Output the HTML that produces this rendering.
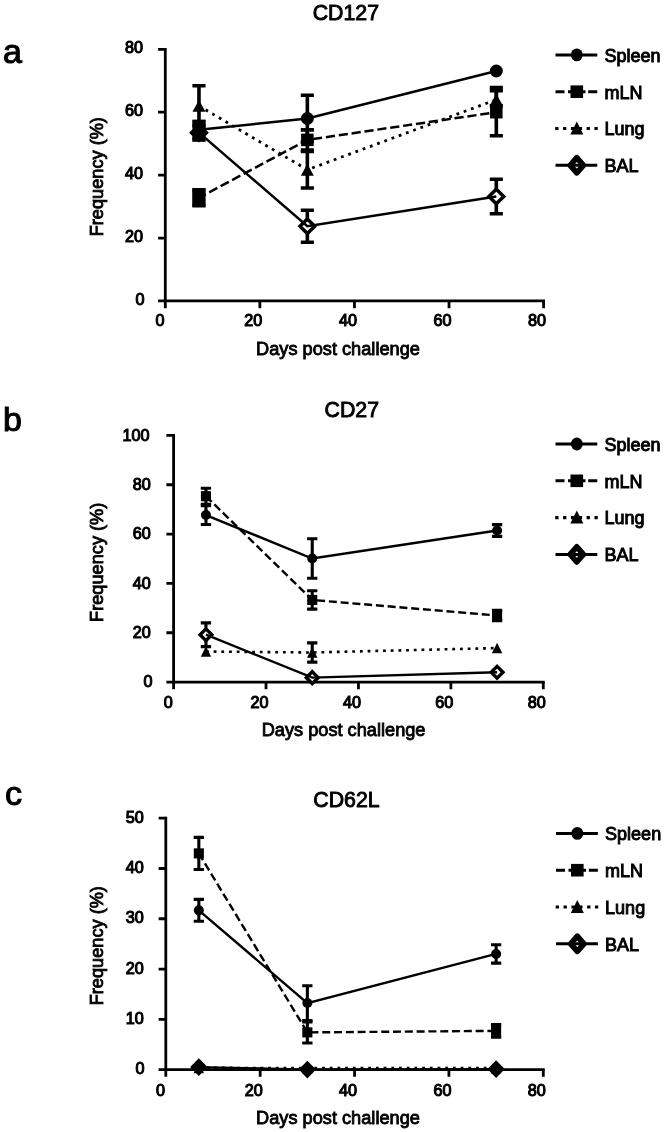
<!DOCTYPE html>
<html><head><meta charset="utf-8"><title>Figure</title>
<style>
html,body{margin:0;padding:0;background:#fff;}
svg{display:block;}
text{font-family:"Liberation Sans",sans-serif;fill:#000;}
.t{stroke:#000;stroke-width:0.85px;}
.tl{stroke:#000;stroke-width:0.95px;}
.tk{stroke:#000;stroke-width:1.1px;}
.t2{stroke:#000;stroke-width:0.9px;}
.t3{stroke:#000;stroke-width:1.1px;}
</style></head><body>
<svg width="666" height="1132" viewBox="0 0 666 1132">
<defs><filter id="soft" x="0" y="0" width="666" height="1132" filterUnits="userSpaceOnUse"><feGaussianBlur stdDeviation="0.45"/></filter></defs>
<rect width="666" height="1132" fill="#fff"/>
<g filter="url(#soft)">
<path d="M165.30 47.90V300.95H545.00" fill="none" stroke="#000" stroke-width="2.8" stroke-linecap="butt" stroke-linejoin="miter"/>
<path d="M158.10 300.95H165.30M158.10 238.04H165.30M158.10 175.12H165.30M158.10 112.21H165.30M158.10 49.30H165.30M165.30 300.95V308.15M259.88 300.95V308.15M354.45 300.95V308.15M449.02 300.95V308.15M543.60 300.95V308.15" fill="none" stroke="#000" stroke-width="2.8"/>
<text x="144.50" y="304.75" text-anchor="end" font-size="16.2" class="tk">0</text>
<text x="142.90" y="241.84" text-anchor="end" font-size="16.2" class="tk">20</text>
<text x="142.90" y="178.92" text-anchor="end" font-size="16.2" class="tk">40</text>
<text x="142.90" y="116.01" text-anchor="end" font-size="16.2" class="tk">60</text>
<text x="142.90" y="53.10" text-anchor="end" font-size="16.2" class="tk">80</text>
<text x="160.00" y="326.05" text-anchor="middle" font-size="16.2" class="tk">0</text>
<text x="253.38" y="326.05" text-anchor="middle" font-size="16.2" class="tk">20</text>
<text x="347.95" y="326.05" text-anchor="middle" font-size="16.2" class="tk">40</text>
<text x="442.52" y="326.05" text-anchor="middle" font-size="16.2" class="tk">60</text>
<text x="537.10" y="326.05" text-anchor="middle" font-size="16.2" class="tk">80</text>
<text x="338.00" y="354.60" text-anchor="middle" font-size="18.2" class="t">Days post challenge</text>
<text transform="translate(103.1 176.70) rotate(-90)" text-anchor="middle" font-size="18.2" class="t">Frequency (%)</text>
<text x="379.00" y="20.00" text-anchor="end" font-size="21.3" class="t2">CD127</text>
<text x="3.00" y="62.60" font-size="34" class="t3">a</text>
<path d="M198.97 125.42V139.89M192.42 125.42H205.52M192.42 139.89H205.52M307.35 210.20V242.28M300.80 210.20H313.90M300.80 242.28H313.90M496.31 179.21V213.82M489.76 179.21H502.86M489.76 213.82H502.86" fill="none" stroke="#000" stroke-width="3.6"/>
<path d="M198.97 125.36L206.37 132.66L198.97 139.96L191.57 132.66Z" fill="#fff" stroke="#000" stroke-width="3.5" stroke-linejoin="miter"/>
<path d="M307.35 218.94L314.75 226.24L307.35 233.54L299.95 226.24Z" fill="#fff" stroke="#000" stroke-width="3.5" stroke-linejoin="miter"/>
<path d="M496.31 189.22L503.71 196.52L496.31 203.82L488.91 196.52Z" fill="#fff" stroke="#000" stroke-width="3.5" stroke-linejoin="miter"/>
<path d="M198.97 132.66 L307.35 226.24 L496.31 196.52" fill="none" stroke="#000" stroke-width="2.5" />
<path d="M198.97 85.79V126.05M192.42 85.79H205.52M192.42 126.05H205.52M307.35 151.53V188.02M300.80 151.53H313.90M300.80 188.02H313.90M496.31 90.60V105.92M489.76 90.60H502.86M489.76 105.92H502.86" fill="none" stroke="#000" stroke-width="3.6"/>
<path d="M198.97 100.02L205.47 111.82H192.47Z" fill="#000"/>
<path d="M307.35 163.88L313.85 175.68H300.85Z" fill="#000"/>
<path d="M496.31 93.73L502.81 105.53H489.81Z" fill="#000"/>
<path d="M198.97 105.92 L307.35 169.78 L496.31 99.63" fill="none" stroke="#000" stroke-width="2.8" stroke-dasharray="2.8 4.9"/>
<path d="M198.97 189.91V205.64M192.42 189.91H205.52M192.42 205.64H205.52M307.35 129.83V149.96M300.80 129.83H313.90M300.80 149.96H313.90M496.31 87.52V135.80M489.76 87.52H502.86M489.76 135.80H502.86" fill="none" stroke="#000" stroke-width="3.6"/>
<rect x="192.72" y="191.52" width="12.5" height="12.5" fill="#000"/>
<rect x="301.10" y="133.64" width="12.5" height="12.5" fill="#000"/>
<rect x="490.06" y="105.96" width="12.5" height="12.5" fill="#000"/>
<path d="M198.97 197.77 L307.35 139.89 L496.31 112.21" fill="none" stroke="#000" stroke-width="2.5" stroke-dasharray="9.2 3.8" stroke-dashoffset="1.4"/>
<path d="M198.97 121.65V138.01M192.42 121.65H205.52M192.42 138.01H205.52M307.35 95.23V141.78M300.80 95.23H313.90M300.80 141.78H313.90" fill="none" stroke="#000" stroke-width="3.6"/>
<ellipse cx="198.97" cy="129.83" rx="6.5" ry="6.5" fill="#000"/>
<ellipse cx="307.35" cy="118.50" rx="6.5" ry="6.5" fill="#000"/>
<ellipse cx="496.31" cy="71.00" rx="6.5" ry="6.5" fill="#000"/>
<path d="M198.97 129.83 L307.35 118.50 L496.31 71.00" fill="none" stroke="#000" stroke-width="2.5" />
<rect x="192.6" y="119.8" width="12.800000000000011" height="21.60000000000001" fill="#000"/>
<rect x="192.3" y="188.3" width="13.199999999999989" height="18.69999999999999" fill="#000"/>
<path d="M555.50 54.90H597.30" stroke="#000" stroke-width="3.0" fill="none"/>
<ellipse cx="576.80" cy="54.90" rx="5.9" ry="6.4" fill="#000"/>
<text x="604.40" y="61.70" font-size="18" class="tl">Spleen</text>
<path d="M555.50 91.70h9M568.00 91.70H585.50M588.20 91.70H597.30" stroke="#000" stroke-width="3.1" fill="none"/>
<rect x="570.50" y="85.40" width="12.6" height="12.6" fill="#000"/>
<text x="604.40" y="98.50" font-size="18" class="tl">mLN</text>
<path d="M555.20 128.50h3.3M563.05 128.50h3.3M570.90 128.50h3.3M578.75 128.50h3.3M586.60 128.50h3.3M594.45 128.50h3.3" stroke="#000" stroke-width="3.2" fill="none"/>
<path d="M576.80 121.40L583.30 134.40H570.30Z" fill="#000"/>
<text x="604.40" y="135.30" font-size="18" class="tl">Lung</text>
<path d="M555.50 165.30H597.30" stroke="#000" stroke-width="3.0" fill="none"/>
<path d="M576.80 157.70L583.40 165.30L576.80 172.90L570.20 165.30Z" fill="none" stroke="#000" stroke-width="5.6" stroke-linejoin="round"/>
<text x="604.40" y="172.10" font-size="18" class="tl">BAL</text>
<path d="M173.60 434.00V682.10H544.70" fill="none" stroke="#000" stroke-width="2.8" stroke-linecap="butt" stroke-linejoin="miter"/>
<path d="M166.40 682.10H173.60M166.40 632.76H173.60M166.40 583.42H173.60M166.40 534.08H173.60M166.40 484.74H173.60M166.40 435.40H173.60M173.60 682.10V689.30M266.02 682.10V689.30M358.45 682.10V689.30M450.87 682.10V689.30M543.30 682.10V689.30" fill="none" stroke="#000" stroke-width="2.8"/>
<text x="152.50" y="687.30" text-anchor="end" font-size="16.2" class="tk">0</text>
<text x="150.80" y="637.96" text-anchor="end" font-size="16.2" class="tk">20</text>
<text x="150.80" y="588.62" text-anchor="end" font-size="16.2" class="tk">40</text>
<text x="150.80" y="539.28" text-anchor="end" font-size="16.2" class="tk">60</text>
<text x="150.80" y="489.94" text-anchor="end" font-size="16.2" class="tk">80</text>
<text x="149.60" y="440.60" text-anchor="end" font-size="16.2" class="tk">100</text>
<text x="168.30" y="708.10" text-anchor="middle" font-size="16.2" class="tk">0</text>
<text x="259.52" y="708.10" text-anchor="middle" font-size="16.2" class="tk">20</text>
<text x="351.95" y="708.10" text-anchor="middle" font-size="16.2" class="tk">40</text>
<text x="444.37" y="708.10" text-anchor="middle" font-size="16.2" class="tk">60</text>
<text x="536.80" y="708.10" text-anchor="middle" font-size="16.2" class="tk">80</text>
<text x="343.60" y="735.50" text-anchor="middle" font-size="18.2" class="t">Days post challenge</text>
<text transform="translate(103.1 562.30) rotate(-90)" text-anchor="middle" font-size="18.2" class="t">Frequency (%)</text>
<text x="379.00" y="416.60" text-anchor="end" font-size="21.3" class="t2">CD27</text>
<text x="3.00" y="430.80" font-size="34" class="t3">b</text>
<path d="M205.95 622.89V646.58M200.80 622.89H211.10M200.80 646.58H211.10" fill="none" stroke="#000" stroke-width="3.1"/>
<path d="M205.95 628.83L211.85 634.73L205.95 640.63L200.05 634.73Z" fill="#fff" stroke="#000" stroke-width="3.4" stroke-linejoin="miter"/>
<path d="M312.24 671.76L318.14 677.66L312.24 683.56L306.34 677.66Z" fill="#fff" stroke="#000" stroke-width="3.4" stroke-linejoin="miter"/>
<path d="M497.09 666.33L502.99 672.23L497.09 678.13L491.19 672.23Z" fill="#fff" stroke="#000" stroke-width="3.4" stroke-linejoin="miter"/>
<path d="M205.95 634.73 L312.24 677.66 L497.09 672.23" fill="none" stroke="#000" stroke-width="2.4" />
<path d="M312.24 642.87V662.12M307.09 642.87H317.39M307.09 662.12H317.39" fill="none" stroke="#000" stroke-width="3.1"/>
<path d="M205.95 646.21L211.15 656.81H200.75Z" fill="#000"/>
<path d="M312.24 647.20L317.44 657.80H307.04Z" fill="#000"/>
<path d="M497.09 642.76L502.29 653.36H491.89Z" fill="#000"/>
<path d="M205.95 651.51 L312.24 652.50 L497.09 648.06" fill="none" stroke="#000" stroke-width="2.6" stroke-dasharray="2.8 4.9"/>
<path d="M205.95 488.22V504.20M200.80 488.22H211.10M200.80 504.20H211.10M312.24 590.82V609.08M307.09 590.82H317.39M307.09 609.08H317.39M497.09 610.31V620.67M491.94 610.31H502.24M491.94 620.67H502.24" fill="none" stroke="#000" stroke-width="3.1"/>
<rect x="200.90" y="491.16" width="10.1" height="10.1" fill="#000"/>
<rect x="307.19" y="594.90" width="10.1" height="10.1" fill="#000"/>
<rect x="492.04" y="610.44" width="10.1" height="10.1" fill="#000"/>
<path d="M205.95 496.21 L312.24 599.95 L497.09 615.49" fill="none" stroke="#000" stroke-width="2.4" stroke-dasharray="8.0 3.8" stroke-dashoffset="0"/>
<path d="M205.95 505.71V524.46M200.80 505.71H211.10M200.80 524.46H211.10M312.24 538.77V578.24M307.09 538.77H317.39M307.09 578.24H317.39M497.09 524.58V536.42M491.94 524.58H502.24M491.94 536.42H502.24" fill="none" stroke="#000" stroke-width="3.1"/>
<ellipse cx="205.95" cy="515.08" rx="5.0" ry="5.0" fill="#000"/>
<ellipse cx="312.24" cy="558.50" rx="5.0" ry="5.0" fill="#000"/>
<ellipse cx="497.09" cy="530.50" rx="5.0" ry="5.0" fill="#000"/>
<path d="M205.95 515.08 L312.24 558.50 L497.09 530.50" fill="none" stroke="#000" stroke-width="2.4" />
<path d="M555.50 444.00H597.30" stroke="#000" stroke-width="3.0" fill="none"/>
<ellipse cx="576.80" cy="444.00" rx="5.9" ry="6.4" fill="#000"/>
<text x="604.40" y="450.80" font-size="18" class="tl">Spleen</text>
<path d="M555.50 480.80h9M568.00 480.80H585.50M588.20 480.80H597.30" stroke="#000" stroke-width="3.1" fill="none"/>
<rect x="570.50" y="474.50" width="12.6" height="12.6" fill="#000"/>
<text x="604.40" y="487.60" font-size="18" class="tl">mLN</text>
<path d="M555.20 517.60h3.3M563.05 517.60h3.3M570.90 517.60h3.3M578.75 517.60h3.3M586.60 517.60h3.3M594.45 517.60h3.3" stroke="#000" stroke-width="3.2" fill="none"/>
<path d="M576.80 510.50L583.30 523.50H570.30Z" fill="#000"/>
<text x="604.40" y="524.40" font-size="18" class="tl">Lung</text>
<path d="M555.50 554.40H597.30" stroke="#000" stroke-width="3.0" fill="none"/>
<path d="M576.80 546.80L583.40 554.40L576.80 562.00L570.20 554.40Z" fill="none" stroke="#000" stroke-width="5.6" stroke-linejoin="round"/>
<text x="604.40" y="561.20" font-size="18" class="tl">BAL</text>
<path d="M165.80 816.80V1069.60H544.70" fill="none" stroke="#000" stroke-width="2.8" stroke-linecap="butt" stroke-linejoin="miter"/>
<path d="M158.60 1069.60H165.80M158.60 1019.32H165.80M158.60 969.04H165.80M158.60 918.76H165.80M158.60 868.48H165.80M158.60 818.20H165.80M165.80 1069.60V1076.80M260.18 1069.60V1076.80M354.55 1069.60V1076.80M448.92 1069.60V1076.80M543.30 1069.60V1076.80" fill="none" stroke="#000" stroke-width="2.8"/>
<text x="144.60" y="1074.20" text-anchor="end" font-size="16.2" class="tk">0</text>
<text x="143.80" y="1023.92" text-anchor="end" font-size="16.2" class="tk">10</text>
<text x="143.80" y="973.64" text-anchor="end" font-size="16.2" class="tk">20</text>
<text x="143.80" y="923.36" text-anchor="end" font-size="16.2" class="tk">30</text>
<text x="143.80" y="873.08" text-anchor="end" font-size="16.2" class="tk">40</text>
<text x="143.80" y="822.80" text-anchor="end" font-size="16.2" class="tk">50</text>
<text x="160.50" y="1095.60" text-anchor="middle" font-size="16.2" class="tk">0</text>
<text x="253.68" y="1095.60" text-anchor="middle" font-size="16.2" class="tk">20</text>
<text x="348.05" y="1095.60" text-anchor="middle" font-size="16.2" class="tk">40</text>
<text x="442.42" y="1095.60" text-anchor="middle" font-size="16.2" class="tk">60</text>
<text x="536.80" y="1095.60" text-anchor="middle" font-size="16.2" class="tk">80</text>
<text x="338.00" y="1123.50" text-anchor="middle" font-size="18.2" class="t">Days post challenge</text>
<text transform="translate(103.1 945.70) rotate(-90)" text-anchor="middle" font-size="18.2" class="t">Frequency (%)</text>
<text x="379.60" y="807.30" text-anchor="end" font-size="21.3" class="t2">CD62L</text>
<text x="5.00" y="805.00" font-size="34" class="t3">c</text>
<path d="M198.83 1060.59L205.13 1067.09L198.83 1073.59L192.53 1067.09Z" fill="#000" stroke="#000" stroke-width="3.4" stroke-linejoin="miter"/>
<path d="M307.36 1063.10L313.66 1069.60L307.36 1076.10L301.06 1069.60Z" fill="#000" stroke="#000" stroke-width="3.4" stroke-linejoin="miter"/>
<path d="M496.11 1062.60L502.41 1069.10L496.11 1075.60L489.81 1069.10Z" fill="#000" stroke="#000" stroke-width="3.4" stroke-linejoin="miter"/>
<path d="M198.83 1067.09 L307.36 1069.60 L496.11 1069.10" fill="none" stroke="#000" stroke-width="2.4" />
<path d="M198.83 1062.54L204.03 1073.14H193.63Z" fill="#000"/>
<path d="M307.36 1062.79L312.56 1073.39H302.16Z" fill="#000"/>
<path d="M496.11 1062.79L501.31 1073.39H490.91Z" fill="#000"/>
<path d="M198.83 1067.84 L307.36 1068.09 L496.11 1068.09" fill="none" stroke="#000" stroke-width="2.6" stroke-dasharray="2.8 4.9"/>
<path d="M198.83 837.36V869.44M193.68 837.36H203.98M193.68 869.44H203.98M307.36 1021.83V1042.95M302.21 1021.83H312.51M302.21 1042.95H312.51M496.11 1024.50V1037.27M490.96 1024.50H501.26M490.96 1037.27H501.26" fill="none" stroke="#000" stroke-width="3.1"/>
<rect x="193.78" y="848.35" width="10.1" height="10.1" fill="#000"/>
<rect x="302.31" y="1027.34" width="10.1" height="10.1" fill="#000"/>
<rect x="491.06" y="1025.83" width="10.1" height="10.1" fill="#000"/>
<path d="M198.83 853.40 L307.36 1032.39 L496.11 1030.88" fill="none" stroke="#000" stroke-width="2.4" stroke-dasharray="8.0 3.8" stroke-dashoffset="0"/>
<path d="M198.83 899.40V921.32M193.68 899.40H203.98M193.68 921.32H203.98M307.36 985.73V1020.43M302.21 985.73H312.51M302.21 1020.43H312.51M496.11 944.81V963.11M490.96 944.81H501.26M490.96 963.11H501.26" fill="none" stroke="#000" stroke-width="3.1"/>
<ellipse cx="198.83" cy="910.36" rx="5.0" ry="5.0" fill="#000"/>
<ellipse cx="307.36" cy="1003.08" rx="5.0" ry="5.0" fill="#000"/>
<ellipse cx="496.11" cy="953.96" rx="5.0" ry="5.0" fill="#000"/>
<path d="M198.83 910.36 L307.36 1003.08 L496.11 953.96" fill="none" stroke="#000" stroke-width="2.4" />
<path d="M556.00 833.40H597.90" stroke="#000" stroke-width="3.0" fill="none"/>
<ellipse cx="577.30" cy="833.40" rx="5.9" ry="6.4" fill="#000"/>
<text x="605.10" y="840.20" font-size="18" class="tl">Spleen</text>
<path d="M556.00 870.20h9M568.50 870.20H586.10M588.80 870.20H597.90" stroke="#000" stroke-width="3.1" fill="none"/>
<rect x="571.00" y="863.90" width="12.6" height="12.6" fill="#000"/>
<text x="605.10" y="877.00" font-size="18" class="tl">mLN</text>
<path d="M555.70 907.00h3.3M563.55 907.00h3.3M571.40 907.00h3.3M579.25 907.00h3.3M587.10 907.00h3.3M594.95 907.00h3.3" stroke="#000" stroke-width="3.2" fill="none"/>
<path d="M577.30 899.90L583.80 912.90H570.80Z" fill="#000"/>
<text x="605.10" y="913.80" font-size="18" class="tl">Lung</text>
<path d="M556.00 943.80H597.90" stroke="#000" stroke-width="3.0" fill="none"/>
<path d="M577.30 936.20L583.90 943.80L577.30 951.40L570.70 943.80Z" fill="none" stroke="#000" stroke-width="5.6" stroke-linejoin="round"/>
<text x="605.10" y="950.60" font-size="18" class="tl">BAL</text>
</g>
</svg>
</body></html>
